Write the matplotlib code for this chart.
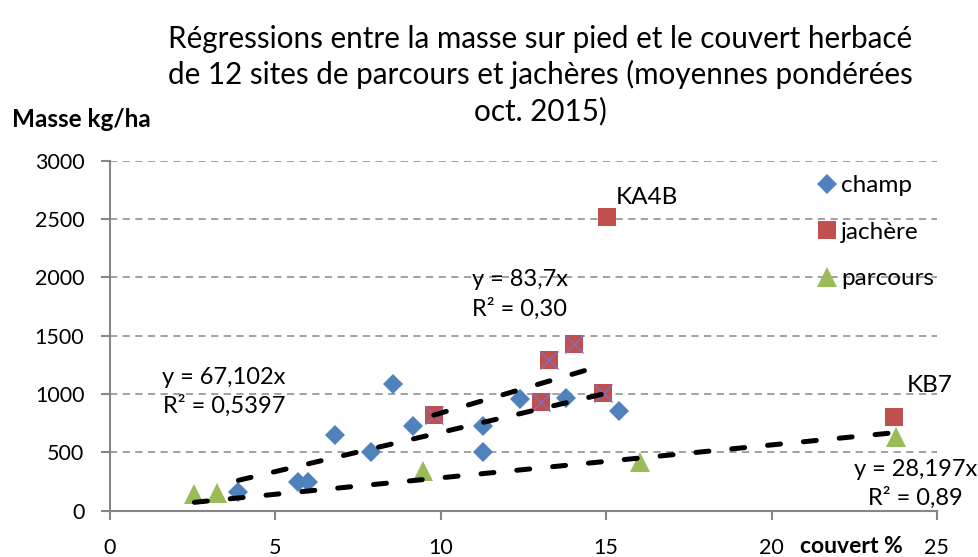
import matplotlib
matplotlib.use("Agg")
import matplotlib.pyplot as plt
import numpy as np

plt.rcParams['font.family'] = ['Lato', 'DejaVu Sans']

# data
champ_x = [3.88, 5.69, 5.99, 6.8, 7.9, 8.56, 9.16, 11.28, 11.28, 12.39, 13.8, 15.39]
champ_y = [163, 243, 243, 649, 500, 1086, 726, 726, 506, 957, 963, 854]

jachere_x = [9.79, 13.04, 13.26, 14.03, 14.9, 15.02, 23.7]
jachere_y = [820, 934, 1291, 1428, 1006, 2514, 800]
# jachère points used for the regression (outliers KA4B and KB7 left out)
jach_reg_x = [9.79, 13.04, 13.26, 14.03, 14.9]
jach_reg_y = [820, 934, 1291, 1428, 1006]

parcours_x = [2.55, 3.24, 9.45, 16.03, 23.75]
parcours_y = [140, 149, 343, 420, 629]

slopes = {"champ": 67.102, "jachere": 83.7, "parcours": 28.197}

blue = "#4F81BD"
red = "#C0504D"
green = "#9BBB59"
grey = "#868686"

fig = plt.figure(figsize=(9.79, 5.57), dpi=100)
ax = fig.add_axes([0.1124, 0.0831, 0.957 - 0.1124, 0.7115 - 0.0831])

ax.set_xlim(0, 25)
ax.set_ylim(0, 3000)
ax.set_xticks(range(0, 26, 5))
ax.set_yticks(range(0, 3001, 500))

for side in ["top", "right"]:
    ax.spines[side].set_visible(False)
for side in ["left", "bottom"]:
    ax.spines[side].set_color(grey)
    ax.spines[side].set_linewidth(1.5)
ax.tick_params(axis="both", colors=grey, length=6.5, width=1.5, direction="out",
               labelsize=15.5, labelcolor="black")
ax.tick_params(axis="x", pad=13)
ax.tick_params(axis="y", pad=12)

ax.yaxis.grid(True, color="#9a9a9a", linestyle=(0, (4, 3)), linewidth=1.3)
ax.set_axisbelow(True)

ax.plot(champ_x, champ_y, "D", color=blue, markersize=9.8, markeredgewidth=0,
        label="champ", zorder=3)
ax.plot(jachere_x, jachere_y, "s", color=red, markersize=13.5, markeredgewidth=0,
        label="jachère", zorder=3)
ax.plot(jach_reg_x, jach_reg_y, "x", color="#7A70C4", markersize=13,
        markeredgewidth=1, zorder=4)
ax.plot(parcours_x, parcours_y, "^", color=green, markersize=14.5, markeredgewidth=0,
        label="parcours", zorder=3)

# trend lines through the origin
def trend(xs, slope):
    xx = np.array([min(xs), max(xs)])
    ax.plot(xx, slope * xx, color="black", linewidth=3.6, dashes=(2.6, 4.6),
            dash_capstyle="round", solid_capstyle="round", zorder=5)

trend(champ_x, slopes["champ"])
trend(jach_reg_x, slopes["jachere"])
trend(parcours_x, slopes["parcours"])

lab = dict(fontsize=17, ha="center", va="center", linespacing=1.4)
ax.text(3.44, 1017, "y = 67,102x\nR² = 0,5397", **lab)
ax.text(12.39, 1855, "y = 83,7x\nR² = 0,30", **lab)
ax.text(24.35, 229, "y = 28,197x\nR² = 0,89", **lab)
ax.text(15.3, 2688, "KA4B", fontsize=17.5, ha="left", va="center")
ax.text(24.1, 1069, "KB7", fontsize=17.5, ha="left", va="center")

leg = ax.legend(loc="upper left", bbox_to_anchor=(812 / 979, 1 - 175 / 557),
                bbox_transform=fig.transFigure, frameon=False, fontsize=17.5,
                labelspacing=1.05, handletextpad=0.0, handlelength=1.2,
                borderaxespad=0, borderpad=0)

title = ["Régressions entre la masse sur pied et le couvert herbacé",
         "de 12 sites de parcours et jachères (moyennes pondérées",
         "oct. 2015)"]
for i, line in enumerate(title):
    fig.text(0.552, 1 - (48 + 36 * i) / 557, line, fontsize=21.3,
             ha="center", va="baseline")

fig.text(12 / 979, 1 - 127 / 557, "Masse kg/ha", fontsize=17.5, fontweight="bold",
         ha="left", va="baseline")
fig.text(800 / 979, 1 - 553 / 557, "couvert %", fontsize=16.5, fontweight="bold",
         ha="left", va="baseline")

fig.savefig("out.png", dpi=100)
